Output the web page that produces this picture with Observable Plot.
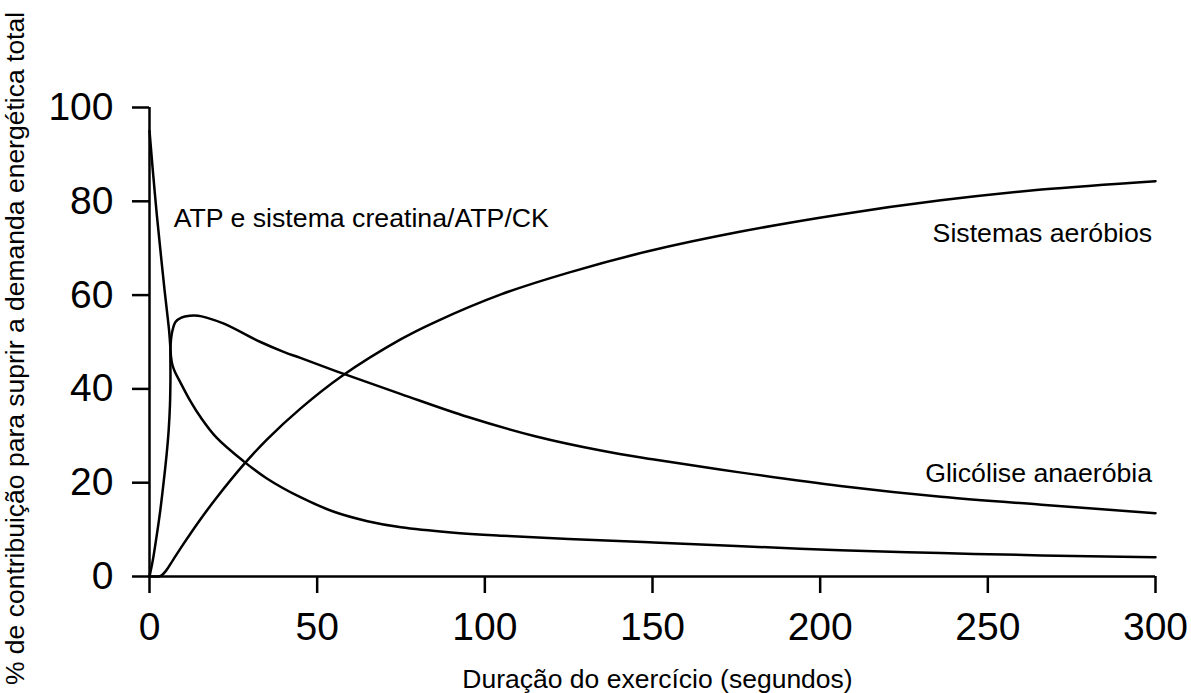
<!DOCTYPE html>
<html>
<head>
<meta charset="utf-8">
<script src="https://cdn.jsdelivr.net/npm/d3@7"></script>
<script src="https://cdn.jsdelivr.net/npm/@observablehq/plot@0.6"></script>
<style>
  html, body { margin: 0; padding: 0; background: #fff; }
  #chart svg { display: block; }
  [aria-label="x-axis tick"], [aria-label="y-axis tick"],
  [aria-label="x-axis"] line, [aria-label="y-axis"] line { stroke-width: 2.5px; stroke: #000; }
</style>
</head>
<body>
<div id="chart"></div>
<script>
// Time (s) and % contribution
const atpT = [0, 1, 2.2, 3.4, 4.5, 5.3, 5.9, 6.2, 6.4, 6.8, 7.6, 9.2, 12.2, 15.2, 20, 28, 35, 45, 55, 65, 75, 90, 105, 125, 149, 175, 206, 236, 266, 300];
const atpV = [95, 86.5, 77, 68.5, 61, 56, 52, 49, 47, 45.2, 43.6, 41.4, 37.4, 34, 29.6, 24.6, 20.9, 16.9, 13.8, 11.8, 10.5, 9.4, 8.7, 8.0, 7.3, 6.5, 5.6, 5.0, 4.5, 4.1];

const glyT = [0, 1, 2.1, 3.2, 4.2, 5.1, 5.7, 6.1, 6.25, 6.3, 6.8, 7.8, 9.5, 12, 14.5, 17, 22.2, 33.1, 40, 45, 57.5, 75, 95, 115, 135, 150, 176, 206, 236, 266, 300];
const glyV = [0, 3.5, 8.5, 14, 20, 26, 31, 36.5, 42, 49.5, 52.3, 54.3, 55.2, 55.6, 55.6, 55.2, 53.9, 50, 47.9, 46.6, 43.3, 38.9, 34.0, 29.9, 26.8, 25.0, 22.2, 19.3, 17.0, 15.3, 13.5];

const aerT = [0, 2, 3.5, 5, 7, 10, 15, 20, 28, 35, 45, 57.5, 75, 85, 105, 125, 149, 176, 206, 236, 266, 300];
const aerV = [0, 0, 0.2, 1.3, 3.5, 6.8, 12, 16.8, 23.8, 29.2, 35.8, 42.8, 50.6, 54.2, 60.2, 64.8, 69.4, 73.5, 77.2, 80.2, 82.5, 84.3];

const xTicks = [0, 50, 100, 150, 200, 250, 300];
const yTicks = [0, 20, 40, 60, 80, 100];

const labelText = ["ATP e sistema creatina/ATP/CK", "Sistemas aeróbios", "Glicólise anaeróbia"];
const labelX = [7.2, 299, 299];
const labelY = [76.3, 73.1, 22.0];
const labelAnchor = ["start", "end", "end"];

const xTitle = "Duração do exercício (segundos)";
const yTitle = "% de contribuição para suprir a demanda energética total";

const toRows = (ts, vs) => ts.map((t, i) => ({t, v: vs[i]}));
const series = [toRows(atpT, atpV), toRows(glyT, glyV), toRows(aerT, aerV)];
const labels = labelText.map((s, i) => ({s, x: labelX[i], y: labelY[i], a: labelAnchor[i]}));

const font = "Liberation Sans, Arial, Helvetica, sans-serif";

const chart = Plot.plot({
  width: 1191,
  height: 693,
  marginLeft: 149,
  marginRight: 36,
  marginTop: 107,
  marginBottom: 117,
  style: {fontFamily: font, fontSize: "39px", color: "#000", background: "#fff", overflow: "visible"},
  x: {domain: [0, 300], ticks: xTicks, tickSize: 17, tickPadding: 19, tickFormat: d => String(d), label: null},
  y: {domain: [0, 100], ticks: yTicks, tickSize: 17, tickPadding: 19, tickFormat: d => String(d), label: null},
  marks: [
    Plot.ruleX([0], {stroke: "#000", strokeWidth: 2.5}),
    Plot.ruleY([0], {stroke: "#000", strokeWidth: 2.5}),
    ...series.map(rows => Plot.line(rows, {x: "t", y: "v", stroke: "#000", strokeWidth: 2.5, curve: "catmull-rom"})),
    ...labels.map(l => Plot.text([l], {x: "x", y: "y", text: "s", textAnchor: l.a, lineAnchor: "middle", fontSize: 26.7, fill: "#000"})),
    Plot.text([xTitle], {frameAnchor: "bottom", textAnchor: "middle", dx: 5, dy: 103, lineAnchor: "middle", fontSize: 26.5, fill: "#000"}),
    Plot.text([yTitle], {frameAnchor: "left", textAnchor: "middle", rotate: -90, dx: -133.5, dy: 6.5, lineAnchor: "middle", fontSize: 26.5, fill: "#000"})
  ]
});
document.getElementById("chart").appendChild(chart);
</script>
</body>
</html>
